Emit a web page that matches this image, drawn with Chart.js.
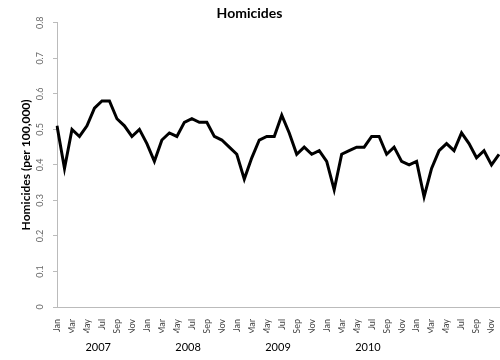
<!DOCTYPE html>
<html>
<head>
<meta charset="utf-8">
<script src="https://cdn.jsdelivr.net/npm/chart.js@4.4.0/dist/chart.umd.min.js"></script>
<style>
  html, body { margin: 0; padding: 0; background: #fff; }
  #wrap { width: 500px; height: 360px; }
</style>
</head>
<body>
<div id="wrap"><canvas id="c"></canvas></div>
<script>
const monthNames = ["Jan","Feb","Mar","Apr","May","Jun","Jul","Aug","Sep","Oct","Nov","Dec"];
const years = ["2007","2008","2009","2010"];
const yTicks = [0, 0.1, 0.2, 0.3, 0.4, 0.5, 0.6, 0.7, 0.8];

const v2007 = [0.51,0.39,0.50,0.48,0.51,0.56,0.58,0.58,0.53,0.51,0.48,0.50];
const v2008 = [0.46,0.41,0.47,0.49,0.48,0.52,0.53,0.52,0.52,0.48,0.47,0.45];
const v2009 = [0.43,0.36,0.42,0.47,0.48,0.48,0.54,0.49,0.43,0.45,0.43,0.44];
const v2010 = [0.41,0.33,0.43,0.44,0.45,0.45,0.48,0.48,0.43,0.45,0.41,0.40];
const v2011 = [0.41,0.31,0.39,0.44,0.46,0.44,0.49,0.46,0.42,0.44,0.40,0.43];

const values = [].concat(v2007, v2008, v2009, v2010, v2011);
const labels = [];
for (let y = 0; y < 5; y++) for (let m = 0; m < 12; m++) labels.push(monthNames[m]);

const FONT = "Lato, 'Open Sans', 'Liberation Sans', sans-serif";

const rotatedYTicks = {
  id: 'rotatedYTicks',
  afterDraw(chart) {
    const s = chart.scales.y;
    const ctx = chart.ctx;
    ctx.save();
    ctx.fillStyle = '#666';
    ctx.font = "9px " + FONT;
    ctx.textAlign = 'center';
    ctx.textBaseline = 'middle';
    yTicks.forEach(v => {
      const py = s.getPixelForValue(v);
      ctx.save();
      ctx.translate(s.right - 17, py);
      ctx.rotate(-Math.PI / 2);
      ctx.fillText(String(v), 0, 0);
      ctx.restore();
    });
    ctx.restore();
  }
};

new Chart(document.getElementById('c'), {
  type: 'line',
  data: {
    labels: labels,
    datasets: [{
      data: values,
      borderColor: '#000',
      borderWidth: 3,
      pointRadius: 0,
      tension: 0,
      fill: false
    }]
  },
  options: {
    responsive: true,
    maintainAspectRatio: false,
    animation: false,
    layout: { padding: { left: 0, right: 1, top: 0, bottom: 0 } },
    plugins: {
      legend: { display: false },
      tooltip: { enabled: false },
      title: {
        display: true,
        text: 'Homicides',
        color: '#000',
        font: { family: FONT, size: 14, weight: 'bold' },
        padding: { top: 5, bottom: 1 }
      }
    },
    scales: {
      y: {
        min: 0, max: 0.8,
        ticks: { display: false, stepSize: 0.1 },
        grid: { display: true, drawOnChartArea: false, drawTicks: true, tickLength: 4, color: '#bbb' },
        border: { display: true, color: '#bbb' },
        title: {
          display: true,
          text: 'Homicides (per 100,000)',
          color: '#000',
          font: { family: FONT, size: 12, weight: 'bold' },
          padding: { top: 19, bottom: 0 }
        },
        afterFit(scale) { scale.width = 57; }
      },
      x: {
        type: 'category',
        offset: false,
        grid: { display: false },
        border: { display: true, color: '#bbb' },
        ticks: {
          autoSkip: false,
          minRotation: 90,
          maxRotation: 90,
          padding: 4,
          color: '#444',
          font: { family: FONT, size: 9 },
          callback: function(val, idx) { return idx % 2 === 0 ? labels[idx] : ''; }
        },
        afterFit(scale) { scale.height = 26; scale.paddingRight = 0; }
      },
      x2: {
        type: 'linear',
        position: 'bottom',
        min: 0, max: 59,
        grid: { display: false },
        border: { display: false },
        afterBuildTicks(scale) {
          scale.ticks = years.map((y, i) => ({ value: i * 12 + 5.5 }));
        },
        ticks: {
          autoSkip: false,
          maxRotation: 0,
          padding: 0,
          color: '#000',
          font: { family: FONT, size: 11 },
          callback: function(val, idx) { return years[idx]; }
        },
        afterFit(scale) { scale.height = 27; scale.paddingRight = 0; scale.paddingLeft = 0; }
      }
    }
  },
  plugins: [rotatedYTicks]
});
</script>
</body>
</html>
